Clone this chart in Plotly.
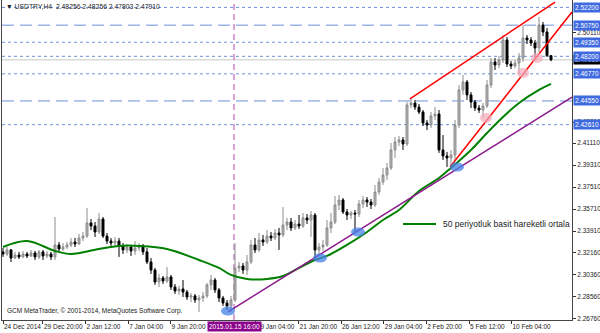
import plotly.graph_objects as go

# ---------------- data (USDTRY H4) ----------------
opens = [2.3220,2.3203,2.3236,2.3170,2.3195,2.3179,2.3203,2.3187,2.3211,2.3179,
         2.3220,2.3187,2.3203,2.3179,2.3277,2.3244,2.3260,2.3277,2.3301,2.3285,
         2.3334,2.3350,2.3457,2.3432,2.3383,2.3489,2.3350,2.3309,2.3293,2.3309,
         2.3269,2.3236,2.3260,2.3228,2.3252,2.3269,2.3220,2.3138,2.3072,2.2974,
         2.3007,2.2982,2.3015,2.2933,2.2900,2.2917,2.2892,2.2851,2.2860,2.2827,
         2.2843,2.2860,2.2950,2.2990,2.2909,2.2843,2.2802,2.2778,2.2827,2.3089,
         2.3105,2.3072,2.3138,2.3277,2.3236,2.3318,2.3301,2.3350,2.3334,2.3375,
         2.3359,2.3440,2.3465,2.3416,2.3448,2.3432,2.3498,2.3481,2.3522,2.3236,
         2.3260,2.3277,2.3416,2.3465,2.3604,2.3645,2.3547,2.3522,2.3538,2.3530,
         2.3612,2.3645,2.3628,2.3604,2.3710,2.3792,2.3849,2.3907,2.4054,2.4119,
         2.4136,2.4103,2.4422,2.4438,2.4405,2.4365,2.4275,2.4258,2.4332,2.4348,
         2.4054,2.4005,2.3989,2.4013,2.4258,2.4545,2.4610,2.4504,2.4446,2.4397,
         2.4381,2.4414,2.4585,2.4774,2.4749,2.4790,2.4954,2.4757,2.4741,2.4765,
         2.4806,2.4970,2.4954,2.4929,2.4888,2.5076,2.5019,2.48256]
highs = [2.3252,2.3260,2.3244,2.3220,2.3220,2.3228,2.3220,2.3236,2.3228,2.3236,
         2.3236,2.3228,2.3220,2.3506,2.3301,2.3293,2.3301,2.3334,2.3334,2.3367,
         2.3383,2.3579,2.3489,2.3465,2.3538,2.3506,2.3375,2.3334,2.3342,2.3334,
         2.3293,2.3285,2.3277,2.3309,2.3293,2.3285,2.3252,2.3170,2.3089,2.3040,
         2.3023,2.3097,2.3032,2.2958,2.2941,2.2990,2.2909,2.2884,2.2876,2.2868,
         2.2892,2.2966,2.3032,2.3007,2.2925,2.2860,2.2827,2.2860,2.3293,2.3138,
         2.3130,2.3195,2.3318,2.3334,2.3375,2.3359,2.3399,2.3383,2.3408,2.3416,
         2.3587,2.3498,2.3498,2.3481,2.3522,2.3538,2.3530,2.3555,2.3538,2.3293,
         2.3318,2.3481,2.3538,2.3678,2.3686,2.3661,2.3571,2.3555,2.3563,2.3645,
         2.3678,2.3669,2.3653,2.3768,2.3825,2.3907,2.3948,2.4111,2.4160,2.4168,
         2.4160,2.4446,2.4471,2.4463,2.4430,2.4381,2.4299,2.4365,2.4405,2.4381,
         2.4176,2.4038,2.4054,2.4299,2.4585,2.4667,2.4626,2.4528,2.4463,2.4422,
         2.4438,2.4626,2.4806,2.4806,2.4823,2.4994,2.4978,2.4782,2.4790,2.4847,
         2.5076,2.4994,2.4978,2.4954,2.5142,2.5101,2.5052,2.48256]
lows = [2.3179,2.3187,2.3138,2.3162,2.3162,2.3170,2.3170,2.3179,2.3154,2.3162,
        2.3154,2.3170,2.3154,2.3154,2.3220,2.3228,2.3244,2.3260,2.3260,2.3277,
        2.3309,2.3334,2.3399,2.3342,2.3367,2.3334,2.3285,2.3269,2.3269,2.3179,
        2.3203,2.3211,2.3187,2.3195,2.3228,2.3195,2.3121,2.3040,2.2950,2.2933,
        2.2958,2.2966,2.2909,2.2876,2.2868,2.2851,2.2827,2.2810,2.2802,2.2728,
        2.2810,2.2843,2.2909,2.2884,2.2810,2.2778,2.2745,2.2728,2.2810,2.3056,
        2.3040,2.3032,2.3121,2.3211,2.3220,2.3269,2.3285,2.3309,2.3318,2.3236,
        2.3342,2.3399,2.3391,2.3399,2.3408,2.3416,2.3448,2.3342,2.3179,2.3187,
        2.3228,2.3260,2.3375,2.3448,2.3563,2.3530,2.3481,2.3489,2.3383,2.3506,
        2.3579,2.3587,2.3571,2.3587,2.3686,2.3768,2.3808,2.3890,2.3989,2.4087,
        2.4054,2.4087,2.4397,2.4381,2.4348,2.4250,2.4217,2.4234,2.4299,2.4030,
        2.3972,2.3915,2.3931,2.3972,2.4234,2.4504,2.4463,2.4397,2.4373,2.4356,
        2.4315,2.4397,2.4561,2.4708,2.4724,2.4765,2.4733,2.4716,2.4724,2.4675,
        2.4774,2.4921,2.4904,2.4806,2.4855,2.4986,2.4814,2.47803]
closes = [2.3203,2.3236,2.3170,2.3195,2.3179,2.3203,2.3187,2.3211,2.3179,2.3220,
          2.3187,2.3203,2.3179,2.3277,2.3244,2.3260,2.3277,2.3301,2.3285,2.3334,
          2.3350,2.3457,2.3432,2.3383,2.3489,2.3350,2.3309,2.3293,2.3309,2.3269,
          2.3236,2.3260,2.3228,2.3252,2.3269,2.3220,2.3138,2.3072,2.2974,2.3007,
          2.2982,2.3015,2.2933,2.2900,2.2917,2.2892,2.2851,2.2860,2.2827,2.2843,
          2.2860,2.2950,2.2990,2.2909,2.2843,2.2802,2.2778,2.2827,2.3089,2.3105,
          2.3072,2.3138,2.3277,2.3236,2.3318,2.3301,2.3350,2.3334,2.3375,2.3359,
          2.3440,2.3465,2.3416,2.3448,2.3432,2.3498,2.3481,2.3522,2.3236,2.3260,
          2.3277,2.3416,2.3465,2.3604,2.3645,2.3547,2.3522,2.3538,2.3530,2.3612,
          2.3645,2.3628,2.3604,2.3710,2.3792,2.3849,2.3907,2.4054,2.4119,2.4136,
          2.4103,2.4422,2.4438,2.4405,2.4365,2.4275,2.4258,2.4332,2.4348,2.4054,
          2.4005,2.3989,2.4013,2.4258,2.4545,2.4610,2.4504,2.4446,2.4397,2.4381,
          2.4414,2.4585,2.4774,2.4749,2.4790,2.4954,2.4757,2.4741,2.4765,2.4806,
          2.4970,2.4954,2.4929,2.4888,2.5076,2.5019,2.4826,2.47910]
bars = list(range(len(closes)))

# 50-period simple moving average, read at selected bars
ma_bar = [0,6,13,17,24,29,34,41,49,54,57,61,66,70,74,78,81,86,91,95,99,104,109,112,117,121,125,129,134,137]
ma_val = [2.3260,2.3309,2.3228,2.3203,2.3244,2.3269,2.3269,2.3244,2.3154,2.3089,
          2.3032,2.2999,2.2999,2.3023,2.3089,2.3154,2.3187,2.3277,2.3383,2.3481,
          2.3563,2.3718,2.3825,2.3907,2.4054,2.4193,2.4324,2.4438,2.4545,2.4594]

# x-axis date labels (bar positions); the 14 Jan label is hidden under the event box
tick_pos = [0, 9.98, 20.6, 31.3, 41.9, 52.6, 63.2, 73.9, 84.5, 95.2, 105.8, 116.5, 127.1]
tick_text = ["24 Dec 2014", "29 Dec 20:00", "2 Jan 12:00", "7 Jan 04:00", "9 Jan 20:00",
             "", "19 Jan 04:00", "21 Jan 20:00", "26 Jan 12:00", "29 Jan 04:00",
             "2 Feb 20:00", "5 Feb 12:00", "10 Feb 04:00"]

# price axis ticks
price_ticks = [2.50110, 2.42810, 2.41110, 2.39310, 2.37510, 2.35710, 2.33910,
               2.32160, 2.30360, 2.28560, 2.26760]

# horizontal levels
dotted_levels = [2.52200, 2.49350, 2.48200, 2.46770, 2.42610]
dashed_levels = [2.50750, 2.44550]
last_price = 2.47910

# trend lines (bar, price)
purple_x = [56.25, 142.25]; purple_y = [2.2729, 2.4487]
red_up_x = [101.75, 138.0]; red_up_y = [2.4471, 2.5264]
red_lo_x = [111.75, 142.25]; red_lo_y = [2.3915, 2.5183]

# touch markers
blue_x = [56.25, 79.25, 88.75, 113.5]
blue_y = [2.2737, 2.3170, 2.3383, 2.3915]
pink_x = [120.75, 130.0, 133.5]
pink_y = [2.4316, 2.4684, 2.4806]

event_bar = 57.75
event_text = "2015.01.15 16:00"
title_text = "\u25bc USDTRY,H4  2.48256 2.48256 2.47803 2.47910"
legend_text = "50 periyotluk basit hareketli ortala"
legend_x = [100.0, 108.25]; legend_y = [2.3448, 2.3448]

# ---------------- figure ----------------
XR = [-0.25, 142.25]
YR = [2.26631, 2.52807]
W, H = 600, 333
ML, MR, MT, MB = 2, 28, 0, 13
px_x = (XR[1] - XR[0]) / (W - ML - MR)
px_y = (YR[1] - YR[0]) / (H - MT - MB)
FONT = "Liberation Sans"

fig = go.Figure()

shapes = []
for lv in dotted_levels:
    shapes.append(dict(type="line", xref="paper", x0=0, x1=1, yref="y", y0=lv, y1=lv,
                       line=dict(color="#6f8fdc", width=1, dash="dot"), layer="below"))
for lv in dashed_levels:
    shapes.append(dict(type="line", xref="paper", x0=0, x1=1, yref="y", y0=lv, y1=lv,
                       line=dict(color="#6f8fdc", width=1, dash="12px,6px"), layer="below"))
shapes.append(dict(type="line", xref="paper", x0=0, x1=1, yref="y", y0=last_price, y1=last_price,
                   line=dict(color="#c8c8c8", width=1), layer="below"))
shapes.append(dict(type="line", xref="x", x0=event_bar, x1=event_bar, yref="paper", y0=0, y1=1,
                   line=dict(color="#b848b8", width=1, dash="6px,4px"), layer="below"))

for bx, by in zip(blue_x, blue_y):
    shapes.append(dict(type="circle", xref="x", yref="y",
                       x0=bx - 7 * px_x, x1=bx + 7 * px_x, y0=by - 4.5 * px_y, y1=by + 4.5 * px_y,
                       fillcolor="rgba(70,130,230,0.75)", line=dict(width=0), layer="above"))
for bx, by in zip(pink_x, pink_y):
    shapes.append(dict(type="circle", xref="x", yref="y",
                       x0=bx - 6 * px_x, x1=bx + 6 * px_x, y0=by - 5 * px_y, y1=by + 5 * px_y,
                       fillcolor="rgba(245,170,185,0.7)", line=dict(width=0), layer="above"))

fig.add_trace(go.Candlestick(
    x=bars, open=opens, high=highs, low=lows, close=closes,
    increasing=dict(line=dict(color="#8c8c8c", width=1), fillcolor="#b4b4b4"),
    decreasing=dict(line=dict(color="#000000", width=1), fillcolor="#000000"),
    whiskerwidth=0, showlegend=False, hoverinfo="skip"))

fig.add_trace(go.Scatter(x=ma_bar, y=ma_val, mode="lines", line=dict(color="#008000", width=2, shape="spline"),
                         showlegend=False, hoverinfo="skip"))
fig.add_trace(go.Scatter(x=purple_x, y=purple_y, mode="lines", line=dict(color="#8b1a8b", width=1.5),
                         showlegend=False, hoverinfo="skip"))
fig.add_trace(go.Scatter(x=red_up_x, y=red_up_y, mode="lines", line=dict(color="#ff0000", width=1.5),
                         showlegend=False, hoverinfo="skip"))
fig.add_trace(go.Scatter(x=red_lo_x, y=red_lo_y, mode="lines", line=dict(color="#ff0000", width=1.5),
                         showlegend=False, hoverinfo="skip"))
fig.add_trace(go.Scatter(x=legend_x, y=legend_y, mode="lines", line=dict(color="#008000", width=2),
                         showlegend=False, hoverinfo="skip"))

ann = []
ann.append(dict(xref="paper", yref="paper", x=0, y=1, xanchor="left", yanchor="top", xshift=2, yshift=-1,
                text=title_text, showarrow=False, font=dict(family=FONT, size=6.8, color="#222")))
ann.append(dict(xref="paper", yref="paper", x=0, y=0, xanchor="left", yanchor="bottom", xshift=3, yshift=3,
                text="GCM MetaTrader, \u00a9 2001-2014, MetaQuotes Software Corp.", showarrow=False,
                font=dict(family=FONT, size=6.5, color="#222")))
ann.append(dict(xref="x", yref="y", x=109.5, y=legend_y[0], xanchor="left", yanchor="middle",
                text=legend_text, showarrow=False, font=dict(family=FONT, size=8.5, color="#222")))
# last price (black) first, then blue level labels above it
ann.append(dict(xref="paper", yref="y", x=1, y=last_price, xanchor="left", yanchor="middle", xshift=1,
                text="%.5f" % last_price, showarrow=False, bgcolor="#000000", borderpad=1,
                font=dict(family=FONT, size=6.5, color="#ffffff")))
for lv in dotted_levels + dashed_levels:
    ann.append(dict(xref="paper", yref="y", x=1, y=lv, xanchor="left", yanchor="middle", xshift=1,
                    text="%.5f" % lv, showarrow=False, bgcolor="#3f6ae0", borderpad=1,
                    font=dict(family=FONT, size=6.5, color="#ffffff")))
ann.append(dict(xref="x", yref="paper", x=event_bar, y=0, xanchor="center", yanchor="top", yshift=-1,
                text=event_text, showarrow=False, bgcolor="#8b008b", borderpad=1,
                font=dict(family=FONT, size=6.5, color="#ffffff")))

fig.update_layout(
    width=W, height=H, margin=dict(l=ML, r=MR, t=MT, b=MB, autoexpand=False),
    paper_bgcolor="white", plot_bgcolor="white",
    shapes=shapes, annotations=ann, showlegend=False,
    xaxis=dict(range=XR, rangeslider=dict(visible=False), showgrid=False, zeroline=False,
               tickmode="array", tickvals=tick_pos, ticktext=tick_text, tickangle=0, automargin=False,
               ticks="outside", ticklen=3, tickcolor="#333", ticklabelposition="outside right",
               tickfont=dict(family=FONT, size=6.5, color="#222"),
               showline=True, linecolor="#444", linewidth=1, mirror=False),
    yaxis=dict(range=YR, side="right", showgrid=False, zeroline=False, automargin=False,
               tickmode="array", tickvals=price_ticks, ticktext=["%.5f" % v for v in price_ticks],
               ticks="outside", ticklen=3, tickcolor="#333",
               tickfont=dict(family=FONT, size=6.5, color="#222"),
               showline=True, linecolor="#444", linewidth=1, mirror=True),
)

fig.write_html("out.html")
